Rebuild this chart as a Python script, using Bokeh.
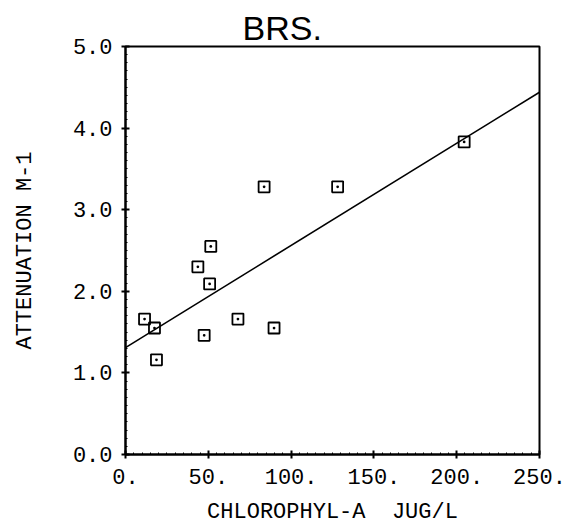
from bokeh.plotting import figure
from bokeh.models import FixedTicker, Range1d
from bokeh.embed import file_html
from bokeh.resources import INLINE

# Data
chl = [11.5, 17.5, 18.7, 43.7, 47.5, 50.8, 51.5, 67.9, 83.7, 89.7, 128.1, 204.5]
atten = [1.66, 1.55, 1.16, 2.30, 1.46, 2.09, 2.55, 1.66, 3.28, 1.55, 3.28, 3.83]
fit_intercept = 1.31
fit_slope = 0.01252

x_ticks = [0, 50, 100, 150, 200, 250]
x_tick_labels = ["0.", "50.", "100.", "150.", "200.", "250."]
y_ticks = [0, 1, 2, 3, 4, 5]
y_tick_labels = ["0.0", "1.0", "2.0", "3.0", "4.0", "5.0"]

title_text = "BRS."
x_label = "CHLOROPHYL-A\u00a0\u00a0JUG/L"
y_label = "ATTENUATION M-1"

MONO = "Liberation Mono"

p = figure(width=577, height=528, output_backend="svg", toolbar_location=None,
           x_range=Range1d(x_ticks[0], x_ticks[-1]),
           y_range=Range1d(y_ticks[0], y_ticks[-1]),
           min_border_left=125, min_border_right=38,
           min_border_top=46, min_border_bottom=74)

p.title.text = title_text
p.title.text_font = "Liberation Sans"
p.title.text_font_size = "34px"
p.title.text_font_style = "normal"
p.title.text_color = "black"
p.title.align = "left"
p.title.offset = 117
p.title.standoff = 0

p.background_fill_color = "white"
p.border_fill_color = "white"
p.outline_line_color = "black"
p.outline_line_width = 2
p.grid.visible = False

minor_x = [v for v in range(0, 251, 5)]
minor_y = [v / 10 for v in range(0, 51)]
p.xaxis.ticker = FixedTicker(ticks=x_ticks, minor_ticks=minor_x)
p.yaxis.ticker = FixedTicker(ticks=y_ticks, minor_ticks=minor_y)
p.xaxis.major_label_overrides = {t: l for t, l in zip(x_ticks, x_tick_labels)}
p.yaxis.major_label_overrides = {t: l for t, l in zip(y_ticks, y_tick_labels)}

for ax in (p.xaxis[0], p.yaxis[0]):
    ax.axis_line_color = "black"
    ax.axis_line_width = 2
    ax.major_tick_line_color = "black"
    ax.major_tick_line_width = 2
    ax.major_tick_in = 4
    ax.major_tick_out = 4
    ax.minor_tick_line_color = "black"
    ax.minor_tick_line_width = 1
    ax.minor_tick_in = 2
    ax.minor_tick_out = 0
    ax.major_label_text_font = MONO
    ax.major_label_text_font_size = "22px"
    ax.major_label_text_color = "black"
    ax.axis_label_text_font = MONO
    ax.axis_label_text_font_size = "22px"
    ax.axis_label_text_font_style = "normal"
    ax.axis_label_text_color = "black"

p.xaxis.axis_label = x_label
p.yaxis.axis_label = y_label
p.xaxis.major_label_standoff = 10
p.xaxis.axis_label_standoff = 13
p.yaxis.major_label_standoff = 9
p.yaxis.axis_label_standoff = 32

# regression line
line_x = [x_ticks[0], x_ticks[-1]]
line_y = [fit_intercept + fit_slope * x for x in line_x]
p.line(line_x, line_y, line_color="black", line_width=1.6)

# data points
p.scatter(chl, atten, marker="square_dot", size=11, line_color="black",
          line_width=1.8, fill_color=None)

open("out.html", "w").write(file_html(p, INLINE))
